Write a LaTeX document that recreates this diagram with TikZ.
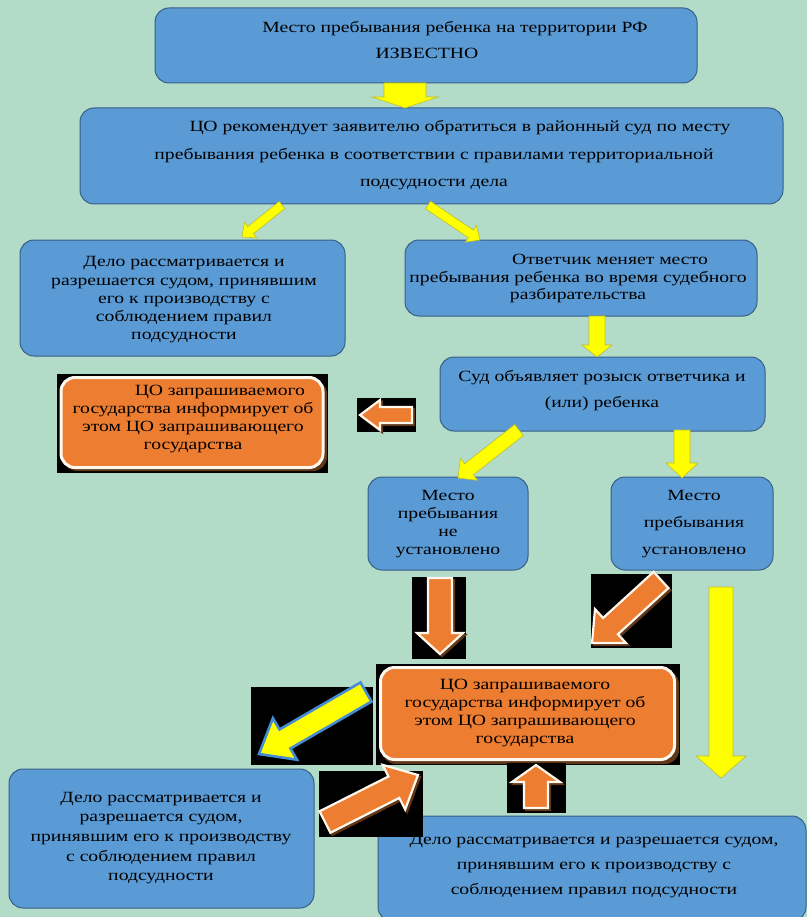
\documentclass[tikz,border=0pt]{standalone}
\usepackage{fontspec}
\setmainfont{Liberation Serif}[FakeStretch=1.26]
\definecolor{bgc}{RGB}{178,220,200}
\definecolor{bfill}{RGB}{91,155,213}
\definecolor{bline}{RGB}{55,95,135}
\definecolor{ofill}{RGB}{237,125,49}
\definecolor{yfill}{RGB}{255,255,0}
\definecolor{yline}{RGB}{190,190,40}
\definecolor{shad}{RGB}{95,55,25}
\definecolor{oedge}{RGB}{255,248,238}
\definecolor{aline}{RGB}{70,140,210}
\newcommand\barrow[8]{%
  \pgfmathsetmacro\bdx{#4-#2}%
  \pgfmathsetmacro\bdy{#5-#3}%
  \pgfmathsetmacro\bang{atan2(-(\bdy),\bdx)}%
  \pgfmathsetmacro\blen{veclen(\bdx,\bdy)}%
  \pgfmathsetmacro\bneck{\blen-#8}%
  \begin{scope}[shift={(#2,#3)},rotate=\bang]
    \draw[#1] (0,#6) -- (\bneck,#6) -- (\bneck,#7) -- (\blen,0) -- (\bneck,-#7) -- (\bneck,-#6) -- (0,-#6) -- cycle;
  \end{scope}}
\tikzset{
  bbox/.style={draw=bline, fill=bfill, line width=1pt, rounded corners=14pt, inner sep=0pt},
  obox/.style={draw=oedge, fill=ofill, line width=3pt, rounded corners=14pt, inner sep=0pt},
  oshadow/.style={fill=shad, rounded corners=14pt},
  txt/.style={align=center, inner sep=0pt, text=black, font=\fontsize{15.6}{18}\selectfont},
  yarr/.style={fill=yfill, draw=yline, line width=0.6pt, line join=miter},
  oarr/.style={fill=ofill, draw=oedge, line width=2.2pt, line join=miter},
  sarr/.style={fill=shad, draw=shad, line width=2.2pt, line join=miter},
  barr/.style={fill=yfill, draw=aline, line width=2.6pt, line join=miter},
  backdrop/.style={fill=black},
}
\begin{document}
\begin{tikzpicture}[x=1pt,y=-1pt]
\useasboundingbox (0,0) rectangle (807,917);
\clip (0,0) rectangle (807,917);
\fill[bgc] (0,0) rectangle (807,917);

% blue boxes
\node[bbox, minimum width=542, minimum height=75] (b1) at (426,45.5) {};
\node[bbox, minimum width=703, minimum height=96] (b2) at (431.5,156) {};
\node[bbox, minimum width=325, minimum height=116] (b3) at (182.5,298) {};
\node[bbox, minimum width=352, minimum height=76] (b4) at (581,278) {};
\node[bbox, minimum width=325, minimum height=74] (b5) at (602.5,394) {};
\node[bbox, minimum width=160, minimum height=93] (b6) at (448,523.5) {};
\node[bbox, minimum width=162, minimum height=93] (b7) at (692,523.5) {};
\node[bbox, minimum width=305, minimum height=139] (b8) at (161.5,838.5) {};
\node[bbox, minimum width=428, minimum height=105] (b9) at (592,868.5) {};

% orange boxes
\fill[backdrop] (57,374) rectangle (328,473);
\fill[oshadow] (63,380) rectangle (327,471);
\node[obox, minimum width=262, minimum height=90] (o1) at (192,422.5) {};
\fill[backdrop] (376,664) rectangle (680,765);
\fill[oshadow] (382,670) rectangle (679,764);
\node[obox, minimum width=294, minimum height=92] (o2) at (527.5,713.5) {};

% yellow arrows
\barrow{yarr}{405}{83}{405}{108}{21}{33}{11}
\barrow{yarr}{282}{205}{242}{237}{4.5}{10}{11}
\barrow{yarr}{428}{205}{480}{240}{4.5}{10}{11}
\barrow{yarr}{597}{316}{597}{357}{8}{15}{12}
\barrow{yarr}{519}{430}{458}{478}{7}{14}{14}
\barrow{yarr}{682}{430}{682}{478}{8}{16}{15}
\barrow{yarr}{721}{587}{721}{778}{12}{25}{22}

% orange arrows on black
\fill[backdrop] (357,398) rectangle (416,432);
\barrow{sarr}{414}{417}{362}{417}{8}{15}{20}
\barrow{oarr}{412}{415}{360}{415}{8}{15}{20}

\fill[backdrop] (412,577) rectangle (466,659);
\barrow{sarr}{442}{580}{442}{656}{12}{23}{21}
\barrow{oarr}{440}{578}{440}{654}{12}{23}{21}

\fill[backdrop] (591,574) rectangle (672,648);
\barrow{sarr}{663}{582}{594}{645}{11}{23}{25}
\barrow{oarr}{661}{580}{592}{643}{11}{23}{25}

\fill[backdrop] (251,687) rectangle (373,765);
\barrow{barr}{366}{692}{259}{754}{11}{24}{30}

\fill[backdrop] (319,771) rectangle (423,837);
\barrow{sarr}{327}{824}{420}{777}{12}{25}{27}
\barrow{oarr}{325}{822}{418}{775}{12}{25}{27}

\fill[backdrop] (507,763) rectangle (566,813);
\barrow{sarr}{538}{810}{538}{767}{12}{24}{17}
\barrow{oarr}{536}{808}{536}{765}{12}{24}{17}

% texts
\node[txt, font=\fontsize{15.6}{26}\selectfont] (t1) at (427,40) {\hspace*{56pt}Место пребывания ребенка на территории РФ\\ИЗВЕСТНО};
\node[txt, font=\fontsize{15.6}{27.5}\selectfont] (t2) at (434,155.5) {\hspace*{52pt}ЦО рекомендует заявителю обратиться в районный суд по месту\\пребывания ребенка в соответствии с правилами территориальной\\подсудности дела};
\node[txt, font=\fontsize{15.6}{18.25}\selectfont] (t3) at (184,300) {Дело рассматривается и\\разрешается судом, принявшим\\его к производству с\\соблюдением правил\\подсудности};
\node[txt, font=\fontsize{15.6}{17.5}\selectfont] (t4) at (578,278.5) {\hspace*{64pt}Ответчик меняет место\\пребывания ребенка во время судебного\\разбирательства};
\node[txt, font=\fontsize{15.6}{26}\selectfont] (t5) at (602,391) {Суд объявляет розыск ответчика и\\(или) ребенка};
\node[txt] (t6) at (193,419) {\hspace*{54pt}ЦО запрашиваемого\\государства информирует об\\этом ЦО запрашивающего\\государства};
\node[txt] (t7) at (448,524) {Место\\пребывания\\не\\установлено};
\node[txt, font=\fontsize{15.6}{27}\selectfont] (t8) at (694,524) {Место\\пребывания\\установлено};
\node[txt] (t9) at (525,713) {ЦО запрашиваемого\\государства информирует об\\этом ЦО запрашивающего\\государства};
\node[txt, font=\fontsize{15.6}{19.7}\selectfont] (t10) at (161,838) {Дело рассматривается и\\разрешается судом,\\принявшим его к производству\\с соблюдением правил\\подсудности};
\node[txt, font=\fontsize{15.6}{25}\selectfont] (t11) at (594,866) {Дело рассматривается и разрешается судом,\\принявшим его к производству с\\соблюдением правил подсудности};
\end{tikzpicture}
\end{document}
